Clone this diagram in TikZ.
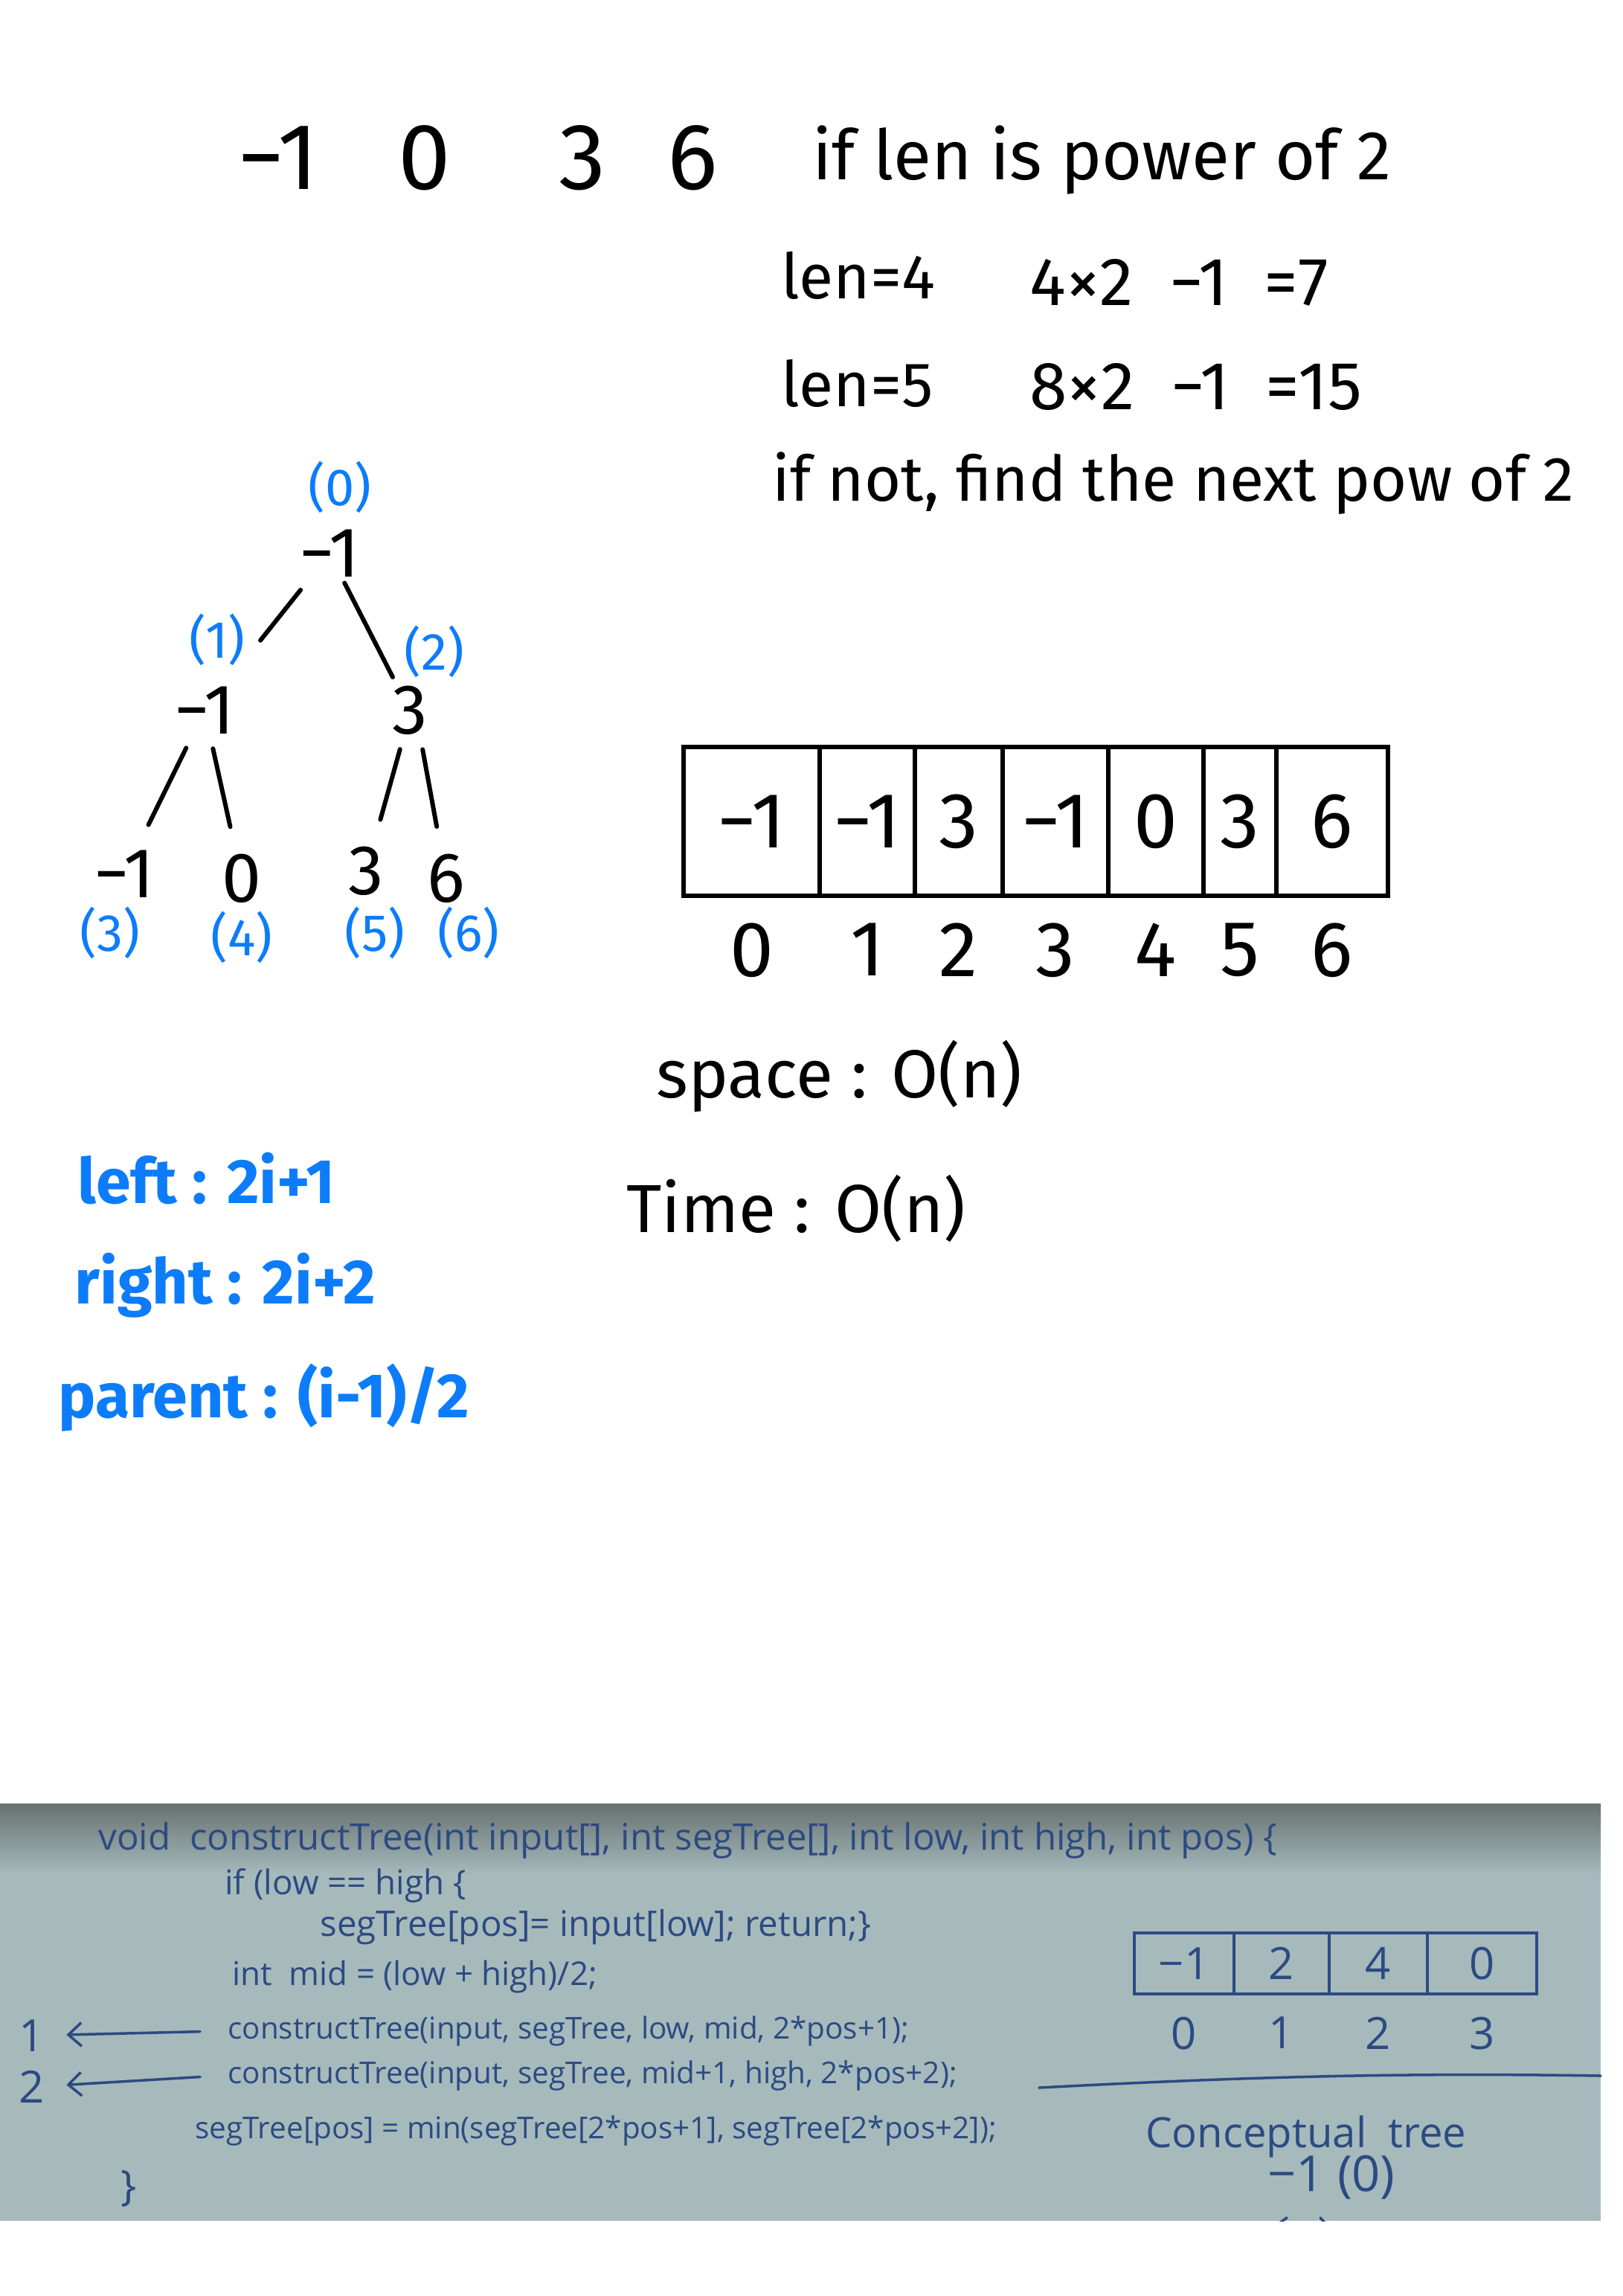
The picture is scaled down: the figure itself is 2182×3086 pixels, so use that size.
\documentclass[tikz,border=0pt]{standalone}
\usepackage{fontspec}
\setmainfont{Fira Sans}
\newfontfamily\boardfont{Open Sans}
\usetikzlibrary{positioning,arrows.meta}
\definecolor{pen}{RGB}{12,124,250}
\definecolor{board}{RGB}{166,186,188}
\definecolor{boardtop}{RGB}{104,114,112}
\definecolor{marker}{RGB}{44,74,130}

\begin{document}
\begin{tikzpicture}[x=0.01cm, y=-0.01cm,
  topnum/.style={font=\fontsize{36}{40}\selectfont},
  note/.style={anchor=west, font=\fontsize{26}{30}\selectfont},
  num/.style={font=\fontsize{27}{30}\selectfont, inner sep=2pt},
  slot/.style={text=pen, font=\fontsize{20}{22}\selectfont},
  rule/.style={anchor=west, text=pen, font=\bfseries\fontsize{24}{28}\selectfont},
  branch/.style={line width=1.7pt, line cap=round, shorten <=0.12cm, shorten >=0.3cm},
  cell/.style={draw, line width=1.7pt, minimum height=2cm, inner sep=0pt, font=\fontsize{30}{32}\selectfont},
  idx/.style={font=\fontsize{30}{32}\selectfont, inner sep=1pt},
  code/.style={anchor=west, text=marker, font=\boardfont\fontsize{11.5}{13}\selectfont},
  bcell/.style={draw=marker, line width=1pt, minimum height=0.82cm, inner sep=0pt, text=marker, font=\boardfont\fontsize{17}{19}\selectfont},
  bidx/.style={text=marker, font=\boardfont\fontsize{17}{19}\selectfont, inner sep=1pt},
  back/.style={marker, line width=1pt, line cap=round}
]
\useasboundingbox (0,0) rectangle (2182,3086);
\fill[white] (0,0) rectangle (2182,3086);

% input array and notes
\foreach \v/\x [count=\i from 0] in {−1/374, 0/571, 3/783, 6/931}
  \node[topnum] (t\i) at (\x,212) {\v};
\node[note, font=\fontsize{26.5}{30}\selectfont] (pow) at (1080,215) {if len is power of 2};
\node[note, font=\fontsize{24}{28}\selectfont] (len4) at (1038,370) {len=4};
\node[note] (calc4) at (1372,380) {4×2~ −1~ =7};
\node[note, font=\fontsize{24}{28}\selectfont] (len5) at (1038,515) {len=5};
\node[note] (calc5) at (1372,520) {8×2~ −1~ =15};
\node[note, font=\fontsize{24}{28}\selectfont] (notpow) at (1026,650) {if not, find the next pow of 2};

% tree
\node[num] (r) at (443,744) {−1};
\node[num] (a) at (275,955) {−1};
\node[num] (b) at (551,955) {3};
\node[num] (c) at (167,1175) {−1};
\node[num] (d) at (325,1181) {0};
\node[num] (e) at (492,1171) {3};
\node[num] (f) at (600,1181) {6};
\draw[branch, shorten >=0.7cm] (r) -- (a);
\draw[branch, shorten <=0cm, shorten >=0.05cm] (r) -- (b);
\draw[branch] (a) -- (c);
\draw[branch] (a) -- (d);
\draw[branch] ([xshift=-0.1cm]b.south) -- (e);
\draw[branch] ([xshift=0.15cm]b.south) -- (f);
\node[slot] (p0) at (457,655) {(0)};
\node[slot] (p1) at (292,860) {(1)};
\node[slot] (p2) at (584,876) {(2)};
\node[slot] (p3) at (148,1254) {(3)};
\node[slot] (p4) at (325,1260) {(4)};
\node[slot] (p5) at (504,1254) {(5)};
\node[slot] (p6) at (630,1254) {(6)};

% segment tree array
\foreach \xl/\xr/\v [count=\i from 0] in {919/1102/−1, 1102/1230/−1, 1230/1348/3, 1348/1490/−1, 1490/1618/0, 1618/1716/3, 1716/1866/6}
  \node[cell, minimum width={(\xr-\xl)*0.01cm}] (c\i) at ({(\xl+\xr)/2},1104) {\v};
\foreach \i in {0,...,6}
  \node[idx, below=0.3cm of c\i] (i\i) {\i};

\node[note] (space) at (870,1447) {space : O(n)};
\node[note] (time) at (830,1624) {Time : O(n)};

\node[rule] (left) at (92,1584) {left : 2i+1};
\node[rule] (right) at (88,1728) {right : 2i+2};
\node[rule] (parent) at (66,1879) {parent : (i-1)/2};

% whiteboard photo
\fill[board] (0,2424) rectangle (2152,2985);
\shade[top color=boardtop, bottom color=board] (0,2424) rectangle (2152,2520);

\node[code, font=\boardfont\fontsize{14}{16}\selectfont] (sig) at (120,2474) {void~ constructTree(int input[], int segTree[], int low, int high, int pos) \{};
\node[code, font=\boardfont\fontsize{13}{15}\selectfont] (base) at (290,2534) {if (low == high \{};
\node[code, font=\boardfont\fontsize{13.5}{15}\selectfont] (leaf) at (418,2590) {segTree[pos]= input[low]; return;\}};
\node[code, font=\boardfont\fontsize{12.5}{14}\selectfont] (mid) at (300,2657) {int~ mid = (low + high)/2;};
\node[code] (call1) at (294,2730) {constructTree(input, segTree, low, mid, 2*pos+1);};
\node[code] (call2) at (294,2790) {constructTree(input, segTree, mid+1, high, 2*pos+2);};
\node[code] (merge) at (250,2864) {segTree[pos] = min(segTree[2*pos+1], segTree[2*pos+2]);};
\node[code, font=\boardfont\fontsize{16}{18}\selectfont] (close) at (150,2942) {\}};
\node[bidx] (one) at (43,2736) {1};
\node[bidx] (two) at (43,2805) {2};
\draw[back, -{Straight Barb[length=5pt,width=9pt]}, shorten <=0.25cm, shorten >=0.25cm] (call1.west) -- (one);
\draw[back, -{Straight Barb[length=5pt,width=9pt]}, shorten <=0.25cm, shorten >=0.25cm] (call2.west) -- (two);

\foreach \xl/\xr/\v [count=\i from 0] in {1525/1659/−1, 1659/1787/2, 1787/1919/4, 1919/2066/0}
  \node[bcell, minimum width={(\xr-\xl)*0.01cm}] (b\i) at ({(\xl+\xr)/2},2639) {\v};
\foreach \i in {0,...,3}
  \node[bidx, below=0.25cm of b\i] (bi\i) {\i};
\draw[back] (1397,2806) .. controls (1700,2790) and (1900,2786) .. (2152,2790);
\node[code, font=\boardfont\fontsize{16}{18}\selectfont] (concept) at (1528,2872) {Conceptual~ tree};
\node[bidx, font=\boardfont\fontsize{19}{21}\selectfont] (croot) at (1790,2927) {−1 (0)};
\coordinate (cl) at (1690,3010);
\coordinate (cr) at (1800,3010);
\begin{scope}
  \clip (0,2424) rectangle (2152,2985);
  \draw[back] ([xshift=0.3cm, yshift=-0.2cm]croot.south west) -- (cl);
  \draw[back] ([xshift=0.75cm, yshift=-0.2cm]croot.south west) -- (cr);
\end{scope}
\end{tikzpicture}
\end{document}
